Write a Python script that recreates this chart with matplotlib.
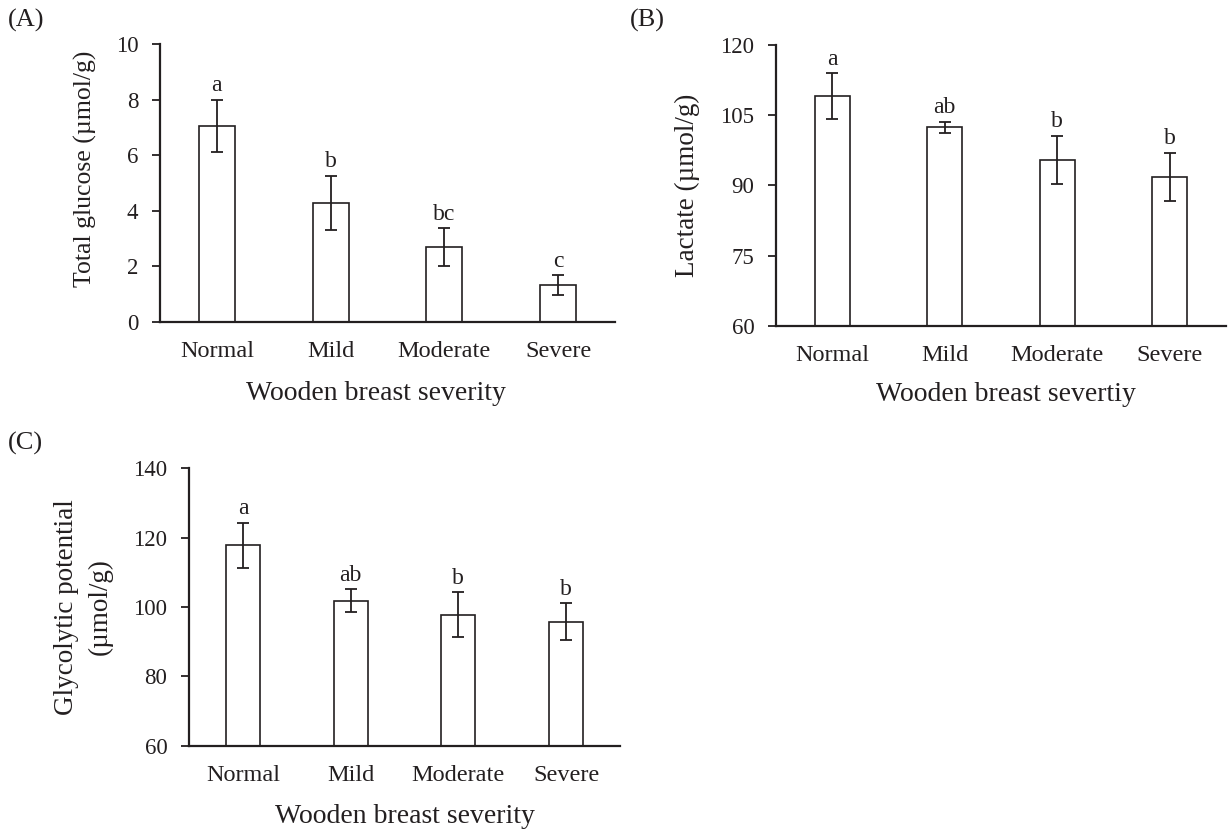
import matplotlib
matplotlib.use('Agg')
import matplotlib.pyplot as plt
import numpy as np

plt.rcParams['font.family'] = ['Liberation Serif', 'DejaVu Serif']

categories = ['Normal', 'Mild', 'Moderate', 'Severe']

glucose_mean = [7.06, 4.27, 2.68, 1.32]
glucose_err = [0.94, 0.98, 0.68, 0.36]
glucose_letters = ['a', 'b', 'bc', 'c']

lactate_mean = [109.0, 102.35, 95.4, 91.8]
lactate_err = [4.9, 1.2, 5.15, 5.15]
lactate_letters = ['a', 'ab', 'b', 'b']

gp_mean = [117.8, 101.8, 97.8, 95.8]
gp_err = [6.5, 3.35, 6.5, 5.35]
gp_letters = ['a', 'ab', 'b', 'b']

INK = '#231f20'
W, H = 1229, 830
fig = plt.figure(figsize=(W / 100, H / 100), dpi=100)


def px_axes(left, top, right, bottom):
    return fig.add_axes([left / W, 1 - bottom / H, (right - left) / W, (bottom - top) / H])


def panel(ax, means, errs, letters, ylim, yticks, ylabel, xlabel, ylab_xy, xlab_xy,
          ylab_size=19.5, ylab_ls=1.2):
    x = np.arange(len(categories))
    ax.bar(x, np.array(means) - ylim[0], bottom=ylim[0], width=0.315, color='white',
           edgecolor=INK, linewidth=1.2, zorder=2)
    ax.errorbar(x, means, yerr=errs, fmt='none', ecolor=INK, elinewidth=1.3,
                capsize=4, capthick=1.3, zorder=3)
    for xi, m, e, lt in zip(x, means, errs, letters):
        ax.annotate(lt, (xi, m + e), xytext=(0, 2.5), textcoords='offset points',
                    ha='center', va='bottom', fontsize=17, color=INK)
    ax.set_xlim(-0.5, len(categories) - 0.5)
    ax.set_ylim(*ylim)
    ax.set_yticks(yticks)
    ax.set_xticks(x)
    ax.set_xticklabels(categories)
    for s in ['top', 'right']:
        ax.spines[s].set_visible(False)
    for s in ['left', 'bottom']:
        ax.spines[s].set_linewidth(1.6)
        ax.spines[s].set_color(INK)
    ax.tick_params(axis='x', length=0, pad=14, labelsize=17.5, colors=INK)
    ax.tick_params(axis='y', length=5.5, width=1.3, pad=10, labelsize=16.5, colors=INK,
                   direction='out')
    ax.set_ylabel(ylabel, fontsize=ylab_size, color=INK, linespacing=ylab_ls)
    ax.yaxis.set_label_coords(*ylab_xy)
    ax.set_xlabel(xlabel, fontsize=20, color=INK)
    ax.xaxis.set_label_coords(*xlab_xy)


axA = px_axes(160, 44, 615, 321.7)
panel(axA, glucose_mean, glucose_err, glucose_letters, (0, 10), [0, 2, 4, 6, 8, 10],
      'Total glucose (µmol/g)', 'Wooden breast severity', (-0.139, 0.55), (0.475, -0.213),
      ylab_size=18.5)

axB = px_axes(776, 44.7, 1226, 326)
panel(axB, lactate_mean, lactate_err, lactate_letters, (60, 120), [60, 75, 90, 105, 120],
      'Lactate (µmol/g)', 'Wooden breast severtiy', (-0.169, 0.5), (0.511, -0.2))

axC = px_axes(189, 468.3, 620, 745.7)
panel(axC, gp_mean, gp_err, gp_letters, (60, 140), [60, 80, 100, 120, 140],
      'Glycolytic potential\n(µmol/g)', 'Wooden breast severity', (-0.176, 0.5), (0.501, -0.209),
      ylab_size=19.5, ylab_ls=1.45)

fig.text(8 / W, 1 - 9 / H, '(A)', ha='left', va='top', fontsize=19, color=INK)
fig.text(630 / W, 1 - 9 / H, '(B)', ha='left', va='top', fontsize=19, color=INK)
fig.text(8 / W, 1 - 432 / H, '(C)', ha='left', va='top', fontsize=19, color=INK)

fig.savefig('out.png', dpi=100, facecolor='white')
